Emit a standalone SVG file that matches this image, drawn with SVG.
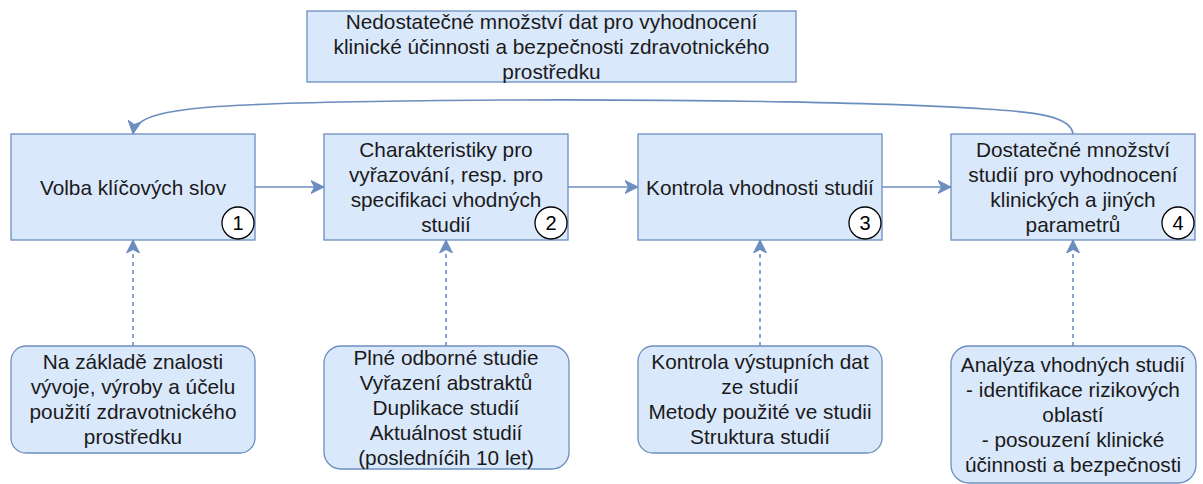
<svg xmlns="http://www.w3.org/2000/svg" width="1203" height="484" viewBox="0 0 1203 484">
<style>
.box{fill:#dae8fc;stroke:#6c8ebf;stroke-width:1.3}
.t{font-family:"Liberation Sans",Arial,sans-serif;font-size:20.8px;fill:#1a1a1a;text-anchor:middle}
.num{fill:#fff;stroke:#000;stroke-width:1.3}
.n{font-family:"Liberation Sans",Arial,sans-serif;font-size:20px;fill:#000;text-anchor:middle}
.c{fill:none;stroke:#6c8ebf;stroke-width:1.6}
.d{fill:none;stroke:#6c8ebf;stroke-width:1.6;stroke-dasharray:4 4}
</style>
<defs>
<marker id="ah" markerWidth="14" markerHeight="14" viewBox="0 0 14 14" refX="13" refY="7" orient="auto" markerUnits="userSpaceOnUse">
<path d="M0,0.5 L13,7 L0,13.5 L3.5,7 Z" fill="#6c8ebf" stroke="#6c8ebf" stroke-width="1"/>
</marker>
</defs>
<rect width="1203" height="484" fill="#fff"/>

<g id="connectors">
<path class="c" d="M255,187 L324,187" marker-end="url(#ah)"/>
<path class="c" d="M568,187 L638,187" marker-end="url(#ah)"/>
<path class="c" d="M882,187 L951,187" marker-end="url(#ah)"/>
<path class="c" d="M1073,134 C1071,116 1035,112 985,109 C900,103 700,99 500,100 C350,101 250,103 200,108 C160,112 135,118 133,134" marker-end="url(#ah)"/>
<path class="d" d="M133,346 L133,240" marker-end="url(#ah)"/>
<path class="d" d="M446,346 L446,240" marker-end="url(#ah)"/>
<path class="d" d="M760,346 L760,240" marker-end="url(#ah)"/>
<path class="d" d="M1073,346 L1073,240" marker-end="url(#ah)"/>
</g>

<g id="top">
<rect class="box" x="307" y="11" width="489" height="71"/>
<text class="t" x="551.5" y="29">Nedostatečné množství dat pro vyhodnocení</text>
<text class="t" x="551.5" y="54">klinické účinnosti a bezpečnosti zdravotnického</text>
<text class="t" x="551.5" y="79">prostředku</text>
</g>

<g id="step1">
<rect class="box" x="11" y="134" width="244" height="106"/>
<text class="t" x="133" y="194.5">Volba klíčových slov</text>
<circle class="num" cx="238" cy="223" r="16"/>
<text class="n" x="238" y="230">1</text>
</g>

<g id="step2">
<rect class="box" x="324" y="134" width="244" height="106"/>
<text class="t" x="446" y="157">Charakteristiky pro</text>
<text class="t" x="446" y="182">vyřazování, resp. pro</text>
<text class="t" x="446" y="207">specifikaci vhodných</text>
<text class="t" x="446" y="232">studií</text>
<circle class="num" cx="551" cy="223" r="16"/>
<text class="n" x="551" y="230">2</text>
</g>

<g id="step3">
<rect class="box" x="638" y="134" width="244" height="106"/>
<text class="t" x="760" y="194.5">Kontrola vhodnosti studií</text>
<circle class="num" cx="865" cy="223" r="16"/>
<text class="n" x="865" y="230">3</text>
</g>

<g id="step4">
<rect class="box" x="951" y="134" width="244" height="106"/>
<text class="t" x="1073" y="157">Dostatečné množství</text>
<text class="t" x="1073" y="182">studií pro vyhodnocení</text>
<text class="t" x="1073" y="207">klinických a jiných</text>
<text class="t" x="1073" y="232">parametrů</text>
<circle class="num" cx="1178" cy="223" r="16"/>
<text class="n" x="1178" y="230">4</text>
</g>

<g id="note1">
<rect class="box" x="11" y="346" width="244" height="107" rx="15"/>
<text class="t" x="133" y="369">Na základě znalosti</text>
<text class="t" x="133" y="394">vývoje, výroby a účelu</text>
<text class="t" x="133" y="419">použití zdravotnického</text>
<text class="t" x="133" y="444">prostředku</text>
</g>

<g id="note2">
<rect class="box" x="324" y="346" width="245" height="123" rx="17"/>
<text class="t" x="446" y="364.5">Plné odborné studie</text>
<text class="t" x="446" y="389.5">Vyřazení abstraktů</text>
<text class="t" x="446" y="414.5">Duplikace studií</text>
<text class="t" x="446" y="439.5">Aktuálnost studií</text>
<text class="t" x="446" y="464.5">(posledníćih 10 let)</text>
</g>

<g id="note3">
<rect class="box" x="638" y="346" width="244" height="107" rx="15"/>
<text class="t" x="760" y="369">Kontrola výstupních dat</text>
<text class="t" x="760" y="394">ze studií</text>
<text class="t" x="760" y="419">Metody použité ve studii</text>
<text class="t" x="760" y="444">Struktura studií</text>
</g>

<g id="note4">
<rect class="box" x="951" y="346" width="245" height="137" rx="18"/>
<text class="t" x="1073" y="371.5">Analýza vhodných studií</text>
<text class="t" x="1073" y="396.5">- identifikace rizikových</text>
<text class="t" x="1073" y="421.5">oblastí</text>
<text class="t" x="1073" y="446.5">- posouzení klinické</text>
<text class="t" x="1073" y="471.5">účinnosti a bezpečnosti</text>
</g>
</svg>
